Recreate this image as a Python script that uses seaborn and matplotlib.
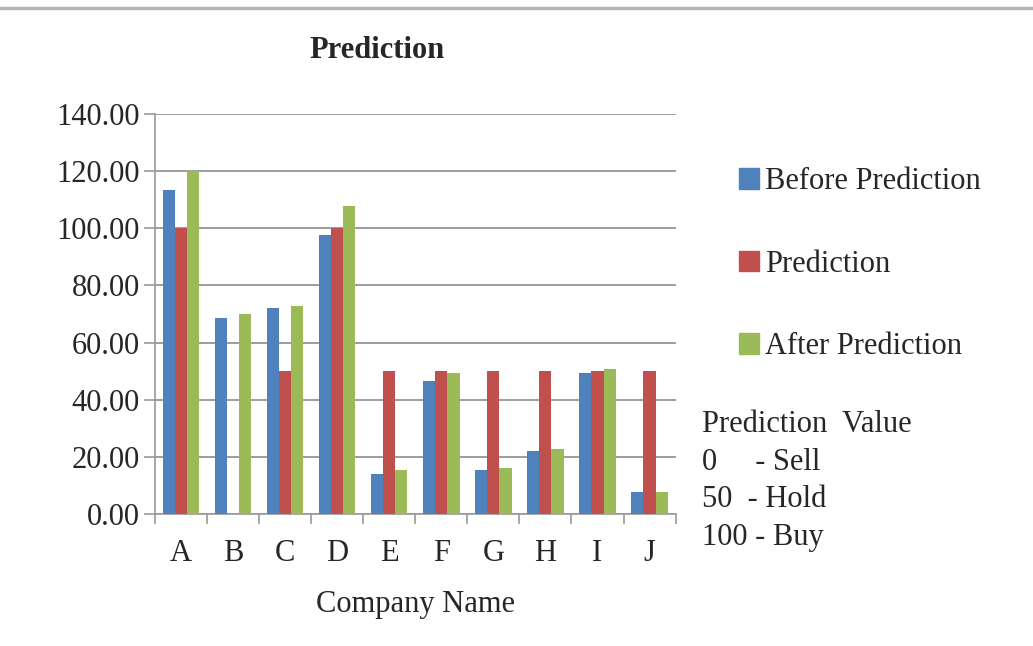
import numpy as np
import pandas as pd
import matplotlib
matplotlib.use("Agg")
import matplotlib.pyplot as plt
import seaborn as sns
from matplotlib.lines import Line2D

companies = ['A', 'B', 'C', 'D', 'E', 'F', 'G', 'H', 'I', 'J']
before_pred = [113.5, 68.5, 72.0, 97.5, 14.0, 46.5, 15.5, 22.0, 49.3, 7.8]
prediction = [100, 0, 50, 100, 50, 50, 50, 50, 50, 50]
after_pred = [119.8, 70.0, 72.8, 107.8, 15.5, 49.3, 16.2, 22.7, 50.8, 7.8]
series_names = ['Before Prediction', 'Prediction', 'After Prediction']
colors = ['#4F81BD', '#C0504D', '#9BBB59']

df = pd.DataFrame({'Company': companies,
                   series_names[0]: before_pred,
                   series_names[1]: prediction,
                   series_names[2]: after_pred})
df = df.melt(id_vars='Company', var_name='Series', value_name='Value')

sns.set_style('white')
plt.rcParams['font.family'] = ['Liberation Serif', 'DejaVu Serif']
FS = 22

fig = plt.figure(figsize=(10.33, 6.46), dpi=100)
ax = fig.add_axes([0.150, 0.204, 0.504, 0.620])

sns.barplot(data=df, x='Company', y='Value', hue='Series', hue_order=series_names,
            palette=colors, width=0.7, saturation=1, linewidth=0, ax=ax, zorder=3)

ax.set_ylim(0, 140)
ax.set_yticks(np.arange(0, 141, 20))
ax.set_yticklabels([f'{v:.2f}' for v in np.arange(0, 141, 20)], fontsize=FS)
ax.set_xticks(range(len(companies)))
ax.set_xticklabels(companies, fontsize=FS)
ax.set_xticks(np.arange(-0.5, len(companies)), minor=True)
ax.set_xlim(-0.5, len(companies) - 0.5)
ax.tick_params(axis='x', which='major', bottom=False, length=0, pad=18)
ax.tick_params(axis='x', which='minor', bottom=True, length=7, color='#9a9a9a',
               width=1.2, direction='out')
ax.tick_params(axis='y', left=True, length=8, color='#9a9a9a', width=1.2,
               direction='out', pad=3)
ax.yaxis.grid(True, color='#8c8c8c', linewidth=1.2, zorder=0)
ax.set_axisbelow(True)
for s in ['top', 'right']:
    ax.spines[s].set_visible(False)
for s in ['left', 'bottom']:
    ax.spines[s].set_color('#9a9a9a')
    ax.spines[s].set_linewidth(1.2)

ax.set_xlabel('Company Name', fontsize=FS, labelpad=16)
ax.set_ylabel('')
fig.text(377 / 1033, 1 - 50 / 646, 'Prediction', fontsize=FS, fontweight='bold',
         ha='center', va='center')

ax.legend_.remove()
handles = [plt.Rectangle((0, 0), 1, 1, color=c) for c in colors]
fig.legend(handles, series_names, loc='upper left', bbox_to_anchor=(0.704, 0.760),
           frameon=False, fontsize=FS, handlelength=0.65, handleheight=0.65,
           handletextpad=0.2, labelspacing=1.75, borderaxespad=0)

fig.text(0.680, 1 - 410 / 646, 'Prediction  Value\n0     - Sell\n50  - Hold\n100 - Buy',
         fontsize=FS, va='top', ha='left', linespacing=1.39)

fig.add_artist(Line2D([0.0, 1.0], [1 - 8 / 646, 1 - 8 / 646], color='#b5b5b5', linewidth=2.5))

fig.savefig('out.png', dpi=100, facecolor='white')
